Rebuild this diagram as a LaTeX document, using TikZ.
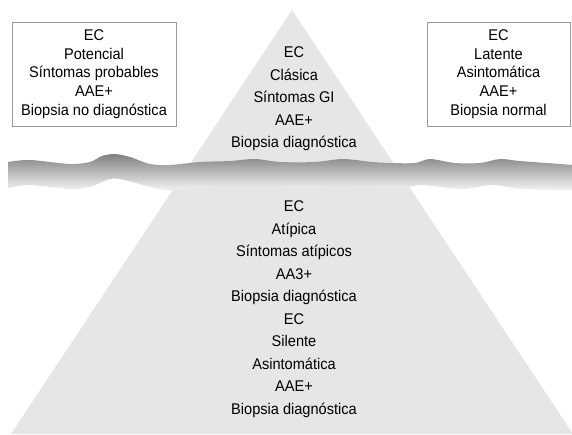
\documentclass[tikz,border=0pt]{standalone}
\usepackage{fontspec}
\setmainfont{Liberation Sans}[FakeStretch=0.94]
\usetikzlibrary{calc}
\definecolor{hielo}{HTML}{E6E6E6}
\definecolor{marco}{HTML}{9A9A9A}
\definecolor{aguaalta}{HTML}{808080}
\definecolor{aguabaja}{HTML}{EBEBEB}

\begin{document}
\begin{tikzpicture}[x=1pt,y=-1pt,
    caja/.style={draw=marco,line width=0.8pt,minimum height=104pt,inner sep=0pt,align=center,font=\fontsize{15.5}{18.75}\selectfont},
    texto/.style={align=center,font=\fontsize{15.5}{22.5}\selectfont}]

    \useasboundingbox (0,0) rectangle (572,434);
    \coordinate (cima) at (292,10);
    \coordinate (baseI) at (11,434);
    \coordinate (baseD) at (573,434);
    \fill[hielo] (cima) -- (baseI) -- (baseD) -- cycle;
    % linea de flotacion
    \begin{scope}
      \clip plot[smooth] coordinates {(8,162) (30,160) (70,164) (90,162) (102,156) (115,154) (130,157) (150,164) (170,165) (200,162) (230,161) (255,159) (280,162) (315,162) (343,159) (372,162) (390,163) (415,163) (430,159) (455,163) (480,163) (500,159) (520,161) (574,165)}
        -- plot[smooth] coordinates {(574,190) (522,189) (492,185) (462,189) (422,185) (400,188) (340,187) (300,188) (250,186) (200,188) (170,190) (150,187) (125,180) (110,179) (90,187) (70,189) (30,185) (8,188)}
        -- cycle;
      \foreach \i in {0,...,40} {
        \pgfmathtruncatemacro{\mezcla}{max(0,min(100,100-(\i-4)*100/34))}
        \fill[aguaalta!\mezcla!aguabaja] (0,150+\i) rectangle (574,151.2+\i);
      }
    \end{scope}

    \node[caja, minimum width=164pt] (potencial) at (94,74) {EC\\Potencial\\Síntomas probables\\AAE+\\Biopsia no diagnóstica};
    \node[caja, minimum width=143pt] (latente) at (498.5,74) {EC\\Latente\\Asintomática\\AAE+\\Biopsia normal};
    \node[texto] (clasica) at (294,99) {EC\\Clásica\\Síntomas GI\\AAE+\\Biopsia diagnóstica};
    \node[texto] (oculta) at (294,309) {EC\\Atípica\\Síntomas atípicos\\AA3+\\Biopsia diagnóstica\\EC\\Silente\\Asintomática\\AAE+\\Biopsia diagnóstica};
\end{tikzpicture}
\end{document}
